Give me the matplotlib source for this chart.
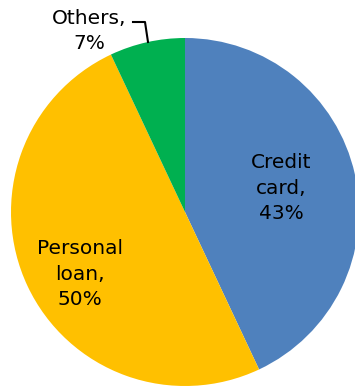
import matplotlib.pyplot as plt

# Debt breakdown
labels = ['Credit\ncard,\n43%', 'Personal\nloan,\n50%', 'Others,\n7%']
shares = [43, 50, 7]
colors = ['#4F81BD', '#FFC000', '#00B050']

W, H = 355, 388
fig = plt.figure(figsize=(W / 100, H / 100), dpi=100)
ax = fig.add_axes([0, 0, 1, 1])

cx, cy, r = 185, H - 212, 174
ax.pie(shares, colors=colors, startangle=90, counterclock=False,
       center=(cx, cy), radius=r, frame=True,
       wedgeprops=dict(linewidth=0))
ax.set_xlim(0, W)
ax.set_ylim(0, H)
ax.set_aspect('equal')
ax.axis('off')

font = dict(fontsize=14.5, ha='center', va='center', linespacing=1.42, color='black')
ax.text(281, H - 188, labels[0], **font)
ax.text(80, H - 274, labels[1], **font)
ax.text(89, H - 31, labels[2], **font)

# leader line for Others
ax.plot([133, 145, 148], [H - 22, H - 22, H - 42], color='black', lw=1.5)

fig.savefig('out.png', dpi=100)
